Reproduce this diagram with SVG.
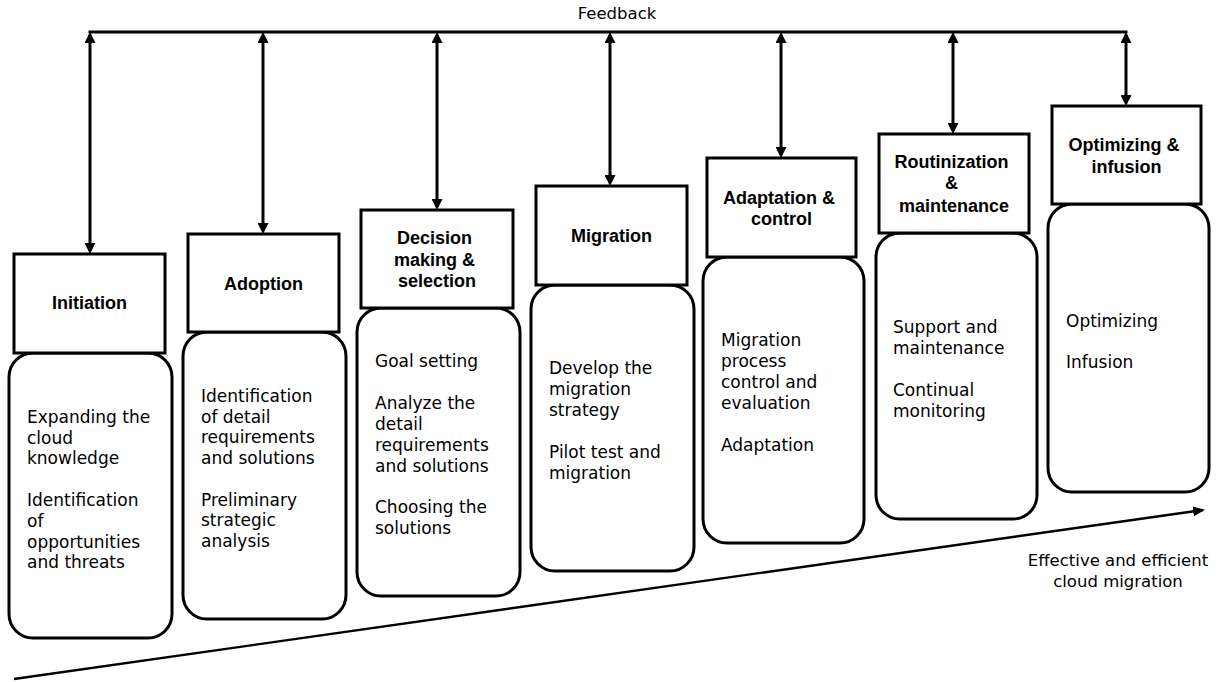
<svg xmlns="http://www.w3.org/2000/svg" width="1218" height="682" viewBox="0 0 1218 682">
  <style>
    .body { fill: #fff; stroke: #000; stroke-width: 3; }
    .head { fill: #fff; stroke: #000; stroke-width: 3; }
    .title { font-family: "Liberation Sans", Arial, sans-serif; font-weight: bold; font-size: 18px; text-anchor: middle; fill: #000; }
    .txt { font-family: "DejaVu Sans", "Liberation Sans", sans-serif; font-size: 17px; fill: #000; }
    .lbl { font-family: "DejaVu Sans", "Liberation Sans", sans-serif; font-size: 16.5px; fill: #000; text-anchor: middle; }
    .fb { fill: none; stroke: #000; stroke-width: 3; }
  </style>
  <defs>
    <marker id="head" viewBox="0 0 11 11" refX="8" refY="5.5" markerWidth="11" markerHeight="11" markerUnits="userSpaceOnUse" orient="auto-start-reverse">
      <path d="M0,0 L11,5.5 L0,11 z" fill="#000"/>
    </marker>
    <marker id="head2" viewBox="0 0 12 10" refX="10" refY="5" markerWidth="12" markerHeight="10" markerUnits="userSpaceOnUse" orient="auto">
      <path d="M0,0 L12,5 L0,10 z" fill="#000"/>
    </marker>
  </defs>

  <rect width="1218" height="682" fill="#fff"/>

  <!-- feedback loop and progression arrow -->
  <g id="connectors">
    <text class="lbl" x="617" y="19">Feedback</text>
    <line class="fb" x1="88.5" y1="32" x2="1127.5" y2="32"/>
    <line class="fb" x1="90" y1="35" x2="90" y2="251" marker-start="url(#head)" marker-end="url(#head)"/>
    <line class="fb" x1="263" y1="35" x2="263" y2="231" marker-start="url(#head)" marker-end="url(#head)"/>
    <line class="fb" x1="437" y1="35" x2="437" y2="207" marker-start="url(#head)" marker-end="url(#head)"/>
    <line class="fb" x1="610" y1="35" x2="610" y2="183" marker-start="url(#head)" marker-end="url(#head)"/>
    <line class="fb" x1="781" y1="35" x2="781" y2="155" marker-start="url(#head)" marker-end="url(#head)"/>
    <line class="fb" x1="953" y1="35" x2="953" y2="131" marker-start="url(#head)" marker-end="url(#head)"/>
    <line class="fb" x1="1126" y1="35" x2="1126" y2="103" marker-start="url(#head)" marker-end="url(#head)"/>
    <line x1="14" y1="679" x2="1203" y2="510" stroke="#000" stroke-width="2.4" marker-end="url(#head2)"/>
    <text class="lbl"><tspan x="1118" y="566">Effective and efficient</tspan><tspan x="1118" y="587">cloud migration</tspan></text>
  </g>

  <g id="initiation">
    <rect class="body" x="9" y="353" width="163" height="285" rx="24"/>
    <rect class="head" x="14" y="254" width="151" height="99"/>
    <text class="title" x="89.5" y="309">Initiation</text>
    <text class="txt">
      <tspan x="27" y="423">Expanding the</tspan>
      <tspan x="27" y="443.5">cloud</tspan>
      <tspan x="27" y="464">knowledge</tspan>
      <tspan x="27" y="506">Identification</tspan>
      <tspan x="27" y="527">of</tspan>
      <tspan x="27" y="547.5">opportunities</tspan>
      <tspan x="27" y="568">and threats</tspan>
    </text>
  </g>

  <g id="adoption">
    <rect class="body" x="183" y="332" width="163" height="287" rx="24"/>
    <rect class="head" x="188" y="234" width="151" height="98"/>
    <text class="title" x="263.5" y="289.5">Adoption</text>
    <text class="txt">
      <tspan x="201" y="402">Identification</tspan>
      <tspan x="201" y="422.5">of detail</tspan>
      <tspan x="201" y="443">requirements</tspan>
      <tspan x="201" y="463.5">and solutions</tspan>
      <tspan x="201" y="505.5">Preliminary</tspan>
      <tspan x="201" y="526">strategic</tspan>
      <tspan x="201" y="547">analysis</tspan>
    </text>
  </g>

  <g id="decision">
    <rect class="body" x="357" y="308" width="163" height="288" rx="24"/>
    <rect class="head" x="361" y="210" width="152" height="98"/>
    <text class="title">
      <tspan x="437" y="244">Decision</tspan>
      <tspan x="437" y="265.7">making &amp;</tspan>
      <tspan x="437" y="287.4">selection</tspan>
    </text>
    <text class="txt">
      <tspan x="375" y="367">Goal setting</tspan>
      <tspan x="375" y="409">Analyze the</tspan>
      <tspan x="375" y="430">detail</tspan>
      <tspan x="375" y="450.5">requirements</tspan>
      <tspan x="375" y="471.5">and solutions</tspan>
      <tspan x="375" y="513">Choosing the</tspan>
      <tspan x="375" y="534">solutions</tspan>
    </text>
  </g>

  <g id="migration">
    <rect class="body" x="531" y="285" width="163" height="286" rx="24"/>
    <rect class="head" x="536" y="186" width="151" height="99"/>
    <text class="title" x="611.5" y="242">Migration</text>
    <text class="txt">
      <tspan x="549" y="374">Develop the</tspan>
      <tspan x="549" y="395">migration</tspan>
      <tspan x="549" y="416">strategy</tspan>
      <tspan x="549" y="458">Pilot test and</tspan>
      <tspan x="549" y="479">migration</tspan>
    </text>
  </g>

  <g id="adaptation">
    <rect class="body" x="703" y="257" width="161" height="286" rx="24"/>
    <rect class="head" x="707" y="158" width="149" height="99"/>
    <text class="title">
      <tspan x="781.5" y="203.5">Adaptation &amp;</tspan>
      <tspan x="781.5" y="225">control</tspan>
    </text>
    <text class="txt">
      <tspan x="721" y="346">Migration</tspan>
      <tspan x="721" y="367">process</tspan>
      <tspan x="721" y="388">control and</tspan>
      <tspan x="721" y="408.5">evaluation</tspan>
      <tspan x="721" y="450.5">Adaptation</tspan>
    </text>
  </g>

  <g id="routinization">
    <rect class="body" x="876" y="233" width="161" height="286" rx="24"/>
    <rect class="head" x="879" y="134" width="150" height="99"/>
    <text class="title">
      <tspan x="954" y="167.7">Routinization</tspan>
      <tspan x="954" y="189.4">&amp;</tspan>
      <tspan x="954" y="211.5">maintenance</tspan>
    </text>
    <text class="txt">
      <tspan x="893" y="333">Support and</tspan>
      <tspan x="893" y="354">maintenance</tspan>
      <tspan x="893" y="396">Continual</tspan>
      <tspan x="893" y="417">monitoring</tspan>
    </text>
  </g>

  <g id="optimizing">
    <rect class="body" x="1048" y="204" width="161" height="288" rx="24"/>
    <rect class="head" x="1052" y="106" width="149" height="98"/>
    <text class="title">
      <tspan x="1126.5" y="151">Optimizing &amp;</tspan>
      <tspan x="1126.5" y="172.7">infusion</tspan>
    </text>
    <text class="txt">
      <tspan x="1066" y="327">Optimizing</tspan>
      <tspan x="1066" y="368">Infusion</tspan>
    </text>
  </g>
</svg>
